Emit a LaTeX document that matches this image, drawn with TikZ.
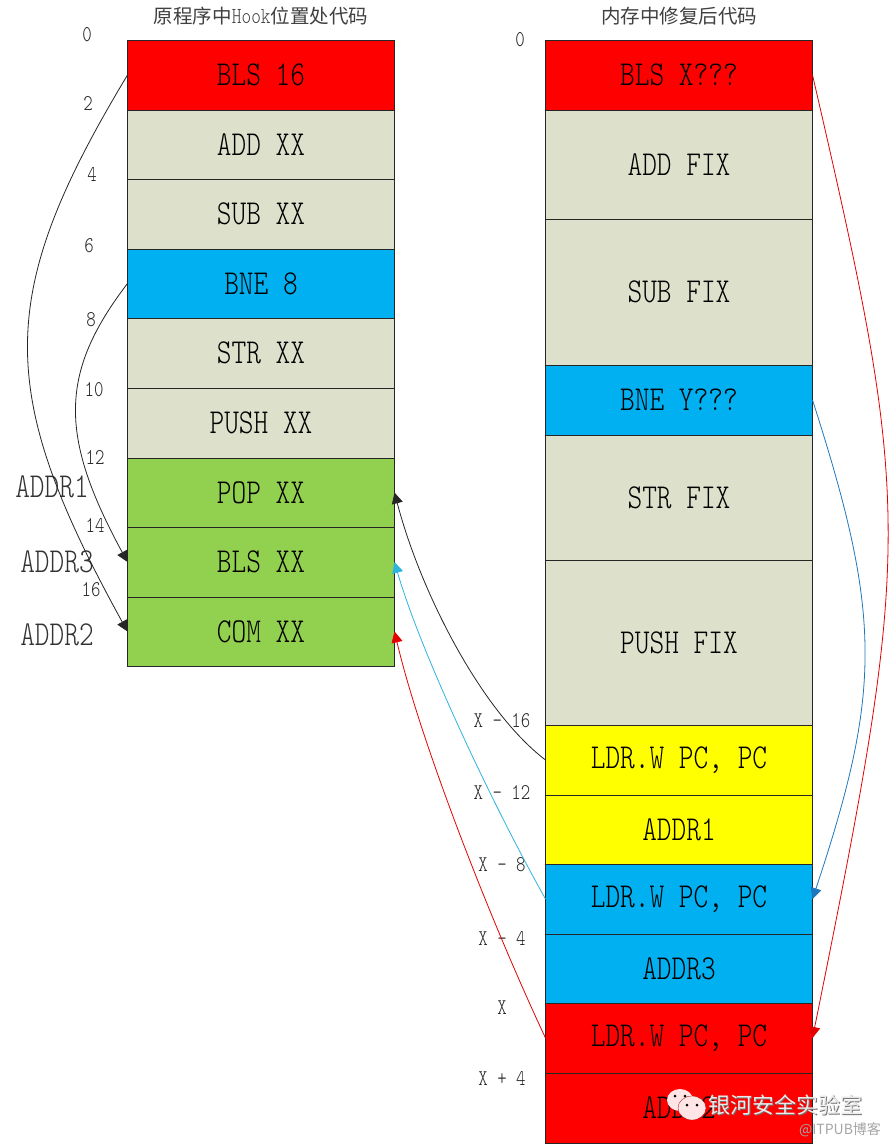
\documentclass[tikz,border=0pt]{standalone}
\usepackage{fontspec}
\newfontfamily\cjk{Noto Sans CJK SC}
\newfontfamily\narrow[FakeStretch=0.8]{Latin Modern Mono Light}
\usetikzlibrary{arrows.meta}
\definecolor{cred}{HTML}{FF0000}
\definecolor{cgray}{HTML}{DDE0CB}
\definecolor{cblue}{HTML}{00B0F0}
\definecolor{cgreen}{HTML}{92D050}
\definecolor{cyell}{HTML}{FFFF00}
\definecolor{ccyan}{HTML}{2FB4DC}
\definecolor{cline}{HTML}{1E78BE}
\tikzset{
  x=1pt,y=-1pt,
  cell/.style={draw=black!85,line width=0.9pt,anchor=north west,minimum width=267pt,inner sep=0pt,outer sep=0pt,
    font=\fontsize{35}{35}\selectfont\narrow},
  off/.style={inner sep=0pt,font=\fontsize{22.5}{22.5}\selectfont\narrow,text=black!85},
  addr/.style={inner sep=0pt,font=\fontsize{35}{35}\selectfont\narrow,text=black!80},
  ttl/.style={inner sep=0pt,font=\fontsize{19.5}{19.5}\selectfont\cjk,text=black!75},
  link/.style={line width=0.8pt,-{Triangle[length=11pt,width=11pt]}},
}
\begin{document}
\begin{tikzpicture}
\useasboundingbox (0,0) rectangle (890,1145);
\fill[white] (0,0) rectangle (890,1145);
% left column
\node[cell,fill=cred,minimum height=70pt] (a1) at (127.5,40) {BLS 16};
\node[cell,fill=cgray,minimum height=69pt] (a2) at (127.5,110) {ADD XX};
\node[cell,fill=cgray,minimum height=70pt] (a3) at (127.5,179) {SUB XX};
\node[cell,fill=cblue,minimum height=69pt] (a4) at (127.5,249) {BNE 8};
\node[cell,fill=cgray,minimum height=70pt] (a5) at (127.5,318) {STR XX};
\node[cell,fill=cgray,minimum height=70pt] (a6) at (127.5,388) {PUSH XX};
\node[cell,fill=cgreen,minimum height=69pt] (a7) at (127.5,458) {POP XX};
\node[cell,fill=cgreen,minimum height=70pt] (a8) at (127.5,527) {BLS XX};
\node[cell,fill=cgreen,minimum height=69pt] (a9) at (127.5,597) {COM XX};
% right column
\node[cell,fill=cred,minimum height=70pt] (b1) at (545.5,40) {BLS X???};
\node[cell,fill=cgray,minimum height=109pt] (b2) at (545.5,110) {ADD FIX};
\node[cell,fill=cgray,minimum height=146pt] (b3) at (545.5,219) {SUB FIX};
\node[cell,fill=cblue,minimum height=70pt] (b4) at (545.5,365) {BNE Y???};
\node[cell,fill=cgray,minimum height=125pt] (b5) at (545.5,435) {STR FIX};
\node[cell,fill=cgray,minimum height=165pt] (b6) at (545.5,560) {PUSH FIX};
\node[cell,fill=cyell,minimum height=70pt] (b7) at (545.5,725) {LDR.W PC, PC};
\node[cell,fill=cyell,minimum height=69pt] (b8) at (545.5,795) {ADDR1};
\node[cell,fill=cblue,minimum height=70pt] (b9) at (545.5,864) {LDR.W PC, PC};
\node[cell,fill=cblue,minimum height=69pt] (b10) at (545.5,934) {ADDR3};
\node[cell,fill=cred,minimum height=70pt] (b11) at (545.5,1003) {LDR.W PC, PC};
\node[cell,fill=cred,minimum height=70pt] (b12) at (545.5,1073) {ADDR2};
% titles
\node[ttl] (t1) at (261,16) {原程序中{\fontsize{23}{23}\selectfont\narrow Hook}位置处代码};
\node[ttl] (t2) at (679,16) {内存中修复后代码};
% offsets
\node[off] (o0) at (87,35) {0};
\node[off] (o2) at (88,104) {2};
\node[off] (o4) at (92,174) {4};
\node[off] (o6) at (89,246) {6};
\node[off] (o8) at (91,320) {8};
\node[off] (o10) at (94,390) {10};
\node[off] (o12) at (95,457) {12};
\node[off] (o14) at (95,525) {14};
\node[off] (o16) at (91,590) {16};
\node[addr] (n1) at (52,487) {ADDR1};
\node[addr] (n3) at (57,562) {ADDR3};
\node[addr] (n2) at (57,635) {ADDR2};
\node[off] (r0) at (520,40) {0};
\node[off] (x16) at (502,721) {X - 16};
\node[off] (x12) at (502,792) {X - 12};
\node[off] (x8) at (502,865) {X - 8};
\node[off] (x4) at (502,938) {X - 4};
\node[off] (x0) at (502,1008) {X};
\node[off] (xp) at (502,1078) {X + 4};
% connectors
\draw[link,black!85] (a1.west) .. controls (-5,295) and (-5,391) .. (a9.west);
\draw[link,black!85] (a4.west) .. controls (59,373) and (59,436) .. (a8.west);
\draw[link,black!85] (b7.west) .. controls (480,710) and (420,590) .. (a7.east);
\draw[link,ccyan] (b9.west) .. controls (490,800) and (420,650) .. (a8.east);
\draw[link,red!90!black] (b11.west) .. controls (490,920) and (420,740) .. (a9.east);
\draw[link,red!90!black] (b1.east) .. controls (913,510) and (913,540) .. (b11.east);
\draw[link,cline] (b4.east) .. controls (882,616) and (882,690) .. (b9.east);
% watermark
\fill[white!90!red] (680,1100) ellipse (13pt and 11pt);
\fill[white!90!red,draw=red!60!black,line width=0.3pt] (692,1108) ellipse (14pt and 12pt);
\fill[black] (675,1096) circle (1.5pt) (685,1096) circle (1.5pt) (687,1105) circle (1.5pt) (697,1105) circle (1.5pt);
\node[inner sep=0pt,font=\fontsize{22}{22}\selectfont\cjk,text=black!55] (wms) at (786,1106.5) {银河安全实验室};
\node[inner sep=0pt,font=\fontsize{22}{22}\selectfont\cjk,text=white!92!black] (wm) at (785,1105) {银河安全实验室};
\node[inner sep=0pt,font=\fontsize{14}{14}\selectfont\cjk,text=black!35] (wm2) at (840,1130) {@ITPUB博客};
\end{tikzpicture}
\end{document}
